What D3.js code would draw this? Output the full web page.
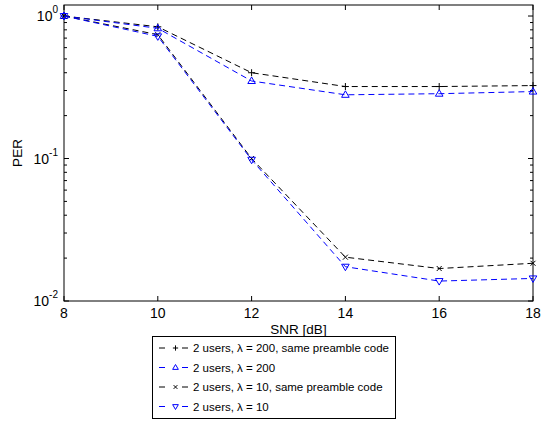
<!DOCTYPE html>
<html>
<head>
<meta charset="utf-8">
<script src="https://cdn.jsdelivr.net/npm/d3@7"></script>
<style>
  body { margin: 0; background: #fff; }
  svg { font-family: "Liberation Sans", Arial, Helvetica, sans-serif; }
</style>
</head>
<body>
<script>
/* Data */
const snr = [8, 10, 12, 14, 16, 18];
const per200Same = [1.0, 0.84, 0.40, 0.32, 0.32, 0.325];
const per200 = [1.0, 0.82, 0.35, 0.28, 0.285, 0.295];
const per10Same = [1.0, 0.74, 0.10, 0.0203, 0.0169, 0.0184];
const per10 = [1.0, 0.72, 0.098, 0.0174, 0.0138, 0.0144];
const xTicks = [8, 10, 12, 14, 16, 18];
const yTicks = [0, -1, -2];
const legendLabels = [
  "2 users, \u03bb = 200, same preamble code",
  "2 users, \u03bb = 200",
  "2 users, \u03bb = 10, same preamble code",
  "2 users, \u03bb = 10"
];

/* Constants */
const w = 548, h = 421;
const pLeft = 64, pRight = 533, pTop = 5, pBottom = 301;

const svg = d3.select("body").append("svg")
  .attr("width", w)
  .attr("height", h);

/* Scales */
const xScale = d3.scaleLinear().domain([8, 18]).range([pLeft, pRight]);
const yScale = d3.scaleLog().domain([0.01, 1.195]).range([pBottom, pTop]);

/* Frame */
svg.append("rect")
  .attr("x", pLeft).attr("y", pTop)
  .attr("width", pRight - pLeft).attr("height", pBottom - pTop)
  .attr("fill", "none").attr("stroke", "#000").attr("stroke-width", 1);

/* Ticks */
const tickLen = 5;
const ticks = svg.append("g").attr("stroke", "#000").attr("stroke-width", 1);
xTicks.forEach(t => {
  const x = xScale(t);
  ticks.append("line").attr("x1", x).attr("x2", x).attr("y1", pBottom).attr("y2", pBottom - tickLen);
  ticks.append("line").attr("x1", x).attr("x2", x).attr("y1", pTop).attr("y2", pTop + tickLen);
});
let yMinor = [];
[0.01, 0.1].forEach(d => { for (let k = 1; k < 10; k++) yMinor.push(d * k); });
yMinor.push(1);
yMinor.forEach(v => {
  const y = yScale(v);
  const len = [0.01, 0.1, 1].includes(v) ? tickLen : 3;
  ticks.append("line").attr("x1", pLeft).attr("x2", pLeft + len).attr("y1", y).attr("y2", y);
  ticks.append("line").attr("x1", pRight).attr("x2", pRight - len).attr("y1", y).attr("y2", y);
});

/* Tick labels */
svg.append("g").selectAll("text")
  .data(xTicks).enter().append("text")
  .attr("x", d => xScale(d))
  .attr("y", pBottom + 17)
  .attr("text-anchor", "middle")
  .attr("font-size", 14)
  .text(d => d);

const yl = svg.append("g").selectAll("text")
  .data(yTicks).enter().append("text")
  .attr("x", pLeft - 6)
  .attr("y", d => yScale(Math.pow(10, d)) + 5)
  .attr("text-anchor", "end")
  .attr("font-size", 14);
yl.append("tspan").text("10");
yl.append("tspan").attr("dy", -8).attr("font-size", 10).text(d => d);

/* Axis labels */
svg.append("text")
  .attr("x", (pLeft + pRight) / 2).attr("y", 334)
  .attr("text-anchor", "middle").attr("font-size", 13.5)
  .text("SNR [dB]");
svg.append("text")
  .attr("transform", "translate(22," + ((pTop + pBottom) / 2) + ") rotate(-90)")
  .attr("text-anchor", "middle").attr("font-size", 13.5)
  .text("PER");

/* Series */
const series = [
  { values: per200Same, color: "#000", marker: "plus" },
  { values: per200, color: "#0000ff", marker: "up" },
  { values: per10Same, color: "#000", marker: "cross" },
  { values: per10, color: "#0000ff", marker: "down" }
];

const line = d3.line()
  .x((d, i) => xScale(snr[i]))
  .y(d => yScale(d));

function drawMarker(g, type, x, y, color, s) {
  if (type === "plus") {
    g.append("path").attr("d", `M${x - 3.5 * s},${y}H${x + 3.5 * s}M${x},${y - 3.5 * s}V${y + 3.5 * s}`)
      .attr("stroke", color).attr("fill", "none");
  } else if (type === "cross") {
    g.append("path").attr("d", `M${x - 2.5 * s},${y - 2.5 * s}L${x + 2.5 * s},${y + 2.5 * s}M${x - 2.5 * s},${y + 2.5 * s}L${x + 2.5 * s},${y - 2.5 * s}`)
      .attr("stroke", color).attr("fill", "none");
  } else if (type === "up") {
    g.append("path").attr("d", `M${x},${y - 4 * s}L${x + 3.8 * s},${y + 2.5 * s}L${x - 3.8 * s},${y + 2.5 * s}Z`)
      .attr("stroke", color).attr("fill", "none");
  } else {
    g.append("path").attr("d", `M${x},${y + 4 * s}L${x + 3.8 * s},${y - 2.5 * s}L${x - 3.8 * s},${y - 2.5 * s}Z`)
      .attr("stroke", color).attr("fill", "none");
  }
}

const plot = svg.append("g");
series.forEach(s => {
  plot.append("path")
    .datum(s.values)
    .attr("d", line)
    .attr("fill", "none")
    .attr("stroke", s.color)
    .attr("stroke-width", 1)
    .attr("stroke-dasharray", "6,4");
  s.values.forEach((v, i) => drawMarker(plot, s.marker, xScale(snr[i]), yScale(v), s.color, 1));
});

/* Legend */
const lg = svg.append("g");
lg.append("rect")
  .attr("x", 152.5).attr("y", 336.5)
  .attr("width", 243).attr("height", 82)
  .attr("fill", "#fff").attr("stroke", "#000").attr("stroke-width", 1);
series.forEach((s, i) => {
  const y = 348 + i * 19.5;
  lg.append("line").attr("x1", 159).attr("x2", 188).attr("y1", y).attr("y2", y)
    .attr("stroke", s.color)
    .attr("stroke-dasharray", "6,17,6");
  drawMarker(lg, s.marker, 175.5, y, s.color, 0.75);
  lg.append("text")
    .attr("x", 193).attr("y", y + 4)
    .attr("font-size", 11.5)
    .text(legendLabels[i]);
});
</script>
</body>
</html>
